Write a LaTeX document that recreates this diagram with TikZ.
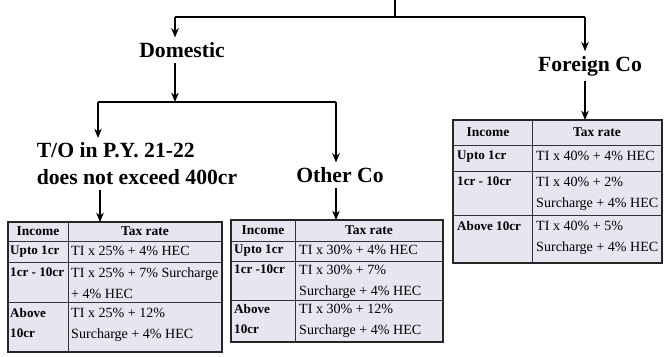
\documentclass[tikz,border=0pt]{standalone}
\usepackage{fontspec}
\setmainfont{Liberation Serif}
\usepackage{tikz}
\usetikzlibrary{arrows.meta}
\definecolor{cellfill}{RGB}{231,229,240}
\tikzstyle{head} = [font=\fontsize{18.5}{23}\selectfont\bfseries, inner sep=4pt]
\tikzstyle{arrow} = [line width=1pt,->,>={Stealth[length=8pt,width=6.5pt]}]
\tikzstyle{branch} = [line width=1pt]
\tikzstyle{tab} = [draw=black!85, line width=1pt, fill=cellfill]
\tikzstyle{rule} = [draw=black!80, line width=0.8pt]
\tikzstyle{colhead} = [font=\fontsize{11.5}{17}\selectfont\bfseries, inner sep=0pt]
\tikzstyle{lab} = [font=\fontsize{11.2}{17}\selectfont\bfseries, anchor=north west, align=left, inner sep=0pt]
\tikzstyle{rate} = [font=\fontsize{12}{17.5}\selectfont, anchor=north west, align=left, inner sep=0pt]

\begin{document}
\begin{tikzpicture}[x=0.03cm,y=-0.03cm]
\useasboundingbox (0,0) rectangle (664,356);

% headings
\node [head] (dom) at (182,50) {Domestic};
\node [head] (forco) at (590,66) {Foreign Co};
\node [head, align=left, font=\fontsize{18.5}{23}\selectfont\bfseries] (turn) at (137,164) {T/O in P.Y. 21-22\\does not exceed 400cr};
\node [head] (other) at (340,175) {Other Co};

% branching
\coordinate (root) at (395,0);
\coordinate (hub) at (395,17);
\coordinate (domin) at (175,17);
\coordinate (forin) at (585,17);
\draw [branch] (root) -- (hub);
\draw [branch] (domin) -- (forin);
\draw [arrow] (domin) -- (domin |- dom.north);
\draw [arrow] (forin) -- (forin |- forco.north);

\coordinate (sub) at (175,102);
\coordinate (turnin) at (98,102);
\coordinate (othin) at (336,102);
\draw [arrow] (dom.south -| sub) -- (sub);
\draw [branch] (turnin) -- (othin);
\draw [arrow] (turnin) -- (turnin |- turn.north);
\draw [arrow] (othin) -- (othin |- other.north);

\coordinate (tabAtop) at (100,222);
\coordinate (tabBtop) at (336,220);
\coordinate (tabCtop) at (585,120);
\draw [arrow] (turn.south -| tabAtop) -- (tabAtop);
\draw [arrow] (other.south -| tabBtop) -- (tabBtop);
\draw [arrow] (forco.south -| tabCtop) -- (tabCtop);

% table for T/O up to 400cr
\draw [tab] (8,222) rectangle (222,352);
\draw [rule] (68,222) -- (68,352);
\draw [rule] (8,241) -- (222,241);
\draw [rule] (8,262) -- (222,262);
\draw [rule] (8,302) -- (222,302);
\node [colhead] (aInc) at (38,231.5) {Income};
\node [colhead] (aTax) at (145,231.5) {Tax rate};
\node [lab] (aL1) at (10,246) {Upto 1cr};
\node [rate] (aR1) at (71,246) {TI x 25\% + 4\% HEC};
\node [lab] (aL2) at (10,268) {1cr - 10cr};
\node [rate] (aR2) at (71,268) {TI x 25\% + 7\% Surcharge\\+ 4\% HEC};
\node [lab] (aL3) at (10,308) {Above\\10cr};
\node [rate] (aR3) at (71,308) {TI x 25\% + 12\%\\Surcharge + 4\% HEC};

% table for other domestic co
\draw [tab] (231,220) rectangle (443,342);
\draw [rule] (295,220) -- (295,342);
\draw [rule] (231,241) -- (443,241);
\draw [rule] (231,261) -- (443,261);
\draw [rule] (231,300) -- (443,300);
\node [colhead] (bInc) at (263,230.5) {Income};
\node [colhead] (bTax) at (369,230.5) {Tax rate};
\node [lab] (bL1) at (234,245) {Upto 1cr};
\node [rate] (bR1) at (299,245) {TI x 30\% + 4\% HEC};
\node [lab] (bL2) at (234,265) {1cr -10cr};
\node [rate] (bR2) at (299,265) {TI x 30\% + 7\%\\Surcharge + 4\% HEC};
\node [lab] (bL3) at (234,304) {Above\\10cr};
\node [rate] (bR3) at (299,304) {TI x 30\% + 12\%\\Surcharge + 4\% HEC};

% table for foreign co
\draw [tab] (453,120) rectangle (662,263);
\draw [rule] (532,120) -- (532,263);
\draw [rule] (453,145) -- (662,145);
\draw [rule] (453,171) -- (662,171);
\draw [rule] (453,215) -- (662,215);
\node [colhead] (cInc) at (488,132.5) {Income};
\node [colhead] (cTax) at (597,132.5) {Tax rate};
\node [lab] (cL1) at (457,151) {Upto 1cr};
\node [rate] (cR1) at (536,151) {TI x 40\% + 4\% HEC};
\node [lab] (cL2) at (457,177) {1cr - 10cr};
\node [rate] (cR2) at (536,177) {TI x 40\% + 2\%\\Surcharge + 4\% HEC};
\node [lab] (cL3) at (457,221) {Above 10cr};
\node [rate] (cR3) at (536,221) {TI x 40\% + 5\%\\Surcharge + 4\% HEC};
\end{tikzpicture}
\end{document}
